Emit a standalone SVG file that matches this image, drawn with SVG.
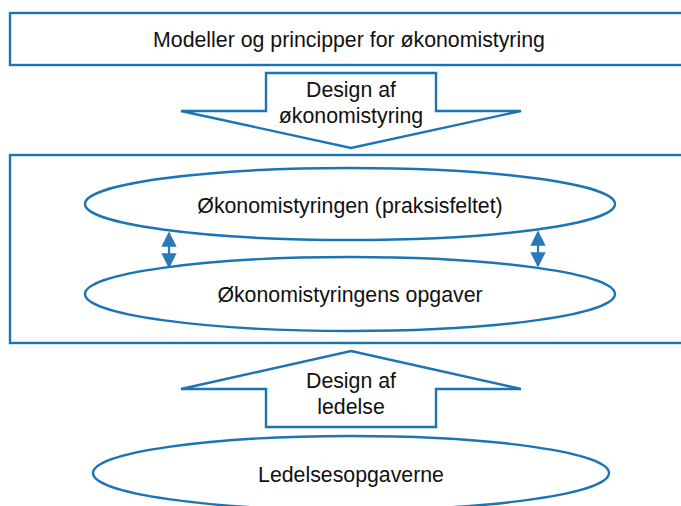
<svg xmlns="http://www.w3.org/2000/svg" width="681" height="506" viewBox="0 0 681 506">
<style>
.s{fill:#fff;stroke:#1B75B5;stroke-width:2.4}
.t{font-family:"Liberation Sans",Arial,sans-serif;font-size:21.3px;fill:#111;text-anchor:middle}
.c{stroke:#2A7AB8;stroke-width:2.2;fill:none}
</style>
<defs>
<marker id="ah" viewBox="0 0 10 10" refX="9" refY="5" markerWidth="7" markerHeight="7" markerUnits="strokeWidth" orient="auto-start-reverse">
<path d="M0,0 L10,5 L0,10 Z" fill="#2A7AB8"/>
</marker>
</defs>
<g id="top-box">
<rect class="s" x="10" y="13" width="690" height="52"/>
<text class="t" x="349" y="47">Modeller og principper for økonomistyring</text>
</g>
<g id="design-oekonomistyring">
<polygon class="s" points="266,73 436,73 436,111 521,111 351,148 181,111 266,111"/>
<text class="t" x="351" y="97">Design af</text>
<text class="t" x="351" y="123">økonomistyring</text>
</g>
<g id="middle-box">
<rect class="s" x="10" y="155" width="690" height="188"/>
</g>
<g id="praksisfeltet">
<ellipse class="s" cx="350" cy="204" rx="265" ry="36"/>
<text class="t" x="350" y="213">Økonomistyringen (praksisfeltet)</text>
</g>
<g id="opgaver">
<ellipse class="s" cx="350" cy="294" rx="265" ry="37"/>
<text class="t" x="350" y="302">Økonomistyringens opgaver</text>
</g>
<g id="design-ledelse">
<polygon class="s" points="351,351 521,389 436,389 436,427 266,427 266,389 181,389"/>
<text class="t" x="351" y="388">Design af</text>
<text class="t" x="351" y="414">ledelse</text>
</g>
<g id="ledelsesopgaverne">
<ellipse class="s" cx="351" cy="473" rx="258" ry="37"/>
<text class="t" x="351" y="482">Ledelsesopgaverne</text>
</g>
<g id="connectors">
<line class="c" x1="169" y1="233" x2="169" y2="267" marker-start="url(#ah)" marker-end="url(#ah)"/>
<line class="c" x1="538" y1="232" x2="538" y2="266" marker-start="url(#ah)" marker-end="url(#ah)"/>
</g>
</svg>
